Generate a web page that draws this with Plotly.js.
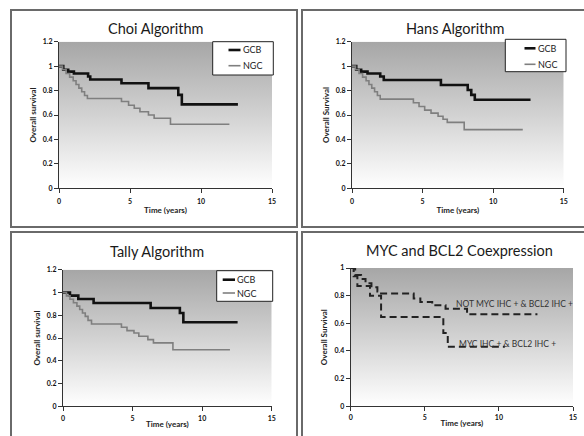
<!DOCTYPE html>
<html>
<head>
<meta charset="utf-8">
<script src="https://cdn.plot.ly/plotly-3.0.1.min.js"></script>
<style>html,body{margin:0;padding:0;background:#fff;}#chart{width:584px;height:436px;}</style>
</head>
<body>
<div id="chart"></div>
<script>
// ---- Data ----
const panelTitles = ["Choi Algorithm", "Hans Algorithm", "Tally Algorithm", "MYC and BCL2 Coexpression"];
const seriesNames = ["GCB", "NGC"];
const mycNames = ["NOT MYC IHC + & BCL2 IHC +", "MYC IHC + & BCL2 IHC +"];
const yTitles = ["Overall survival", "Overall Survival", "Overall survival", "Overall Survival"];
const xTitle = "Time (years)";

const choiGcbX = [0, 0.3, 0.65, 1.05, 2.05, 2.2, 4.4, 6.3, 8.4, 8.65, 12.6];
const choiGcbY = [1, 0.97, 0.955, 0.94, 0.915, 0.89, 0.86, 0.82, 0.765, 0.687, 0.687];
const choiNgcX = [0, 0.25, 0.5, 0.75, 1.0, 1.2, 1.4, 1.6, 1.8, 2.0, 4.4, 4.9, 5.3, 5.7, 6.3, 6.7, 7.85, 12.0];
const choiNgcY = [1, 0.97, 0.94, 0.91, 0.88, 0.85, 0.82, 0.79, 0.76, 0.735, 0.71, 0.68, 0.655, 0.627, 0.60, 0.573, 0.524, 0.524];

const hansGcbX = [0, 0.3, 0.65, 1.1, 2.0, 2.25, 6.3, 8.2, 8.45, 8.7, 12.65];
const hansGcbY = [1, 0.97, 0.955, 0.94, 0.915, 0.886, 0.846, 0.805, 0.765, 0.725, 0.725];
const hansNgcX = [0, 0.25, 0.5, 0.75, 1.0, 1.2, 1.4, 1.6, 1.8, 2.0, 4.35, 4.75, 5.15, 5.6, 6.1, 6.45, 6.75, 7.95, 12.1];
const hansNgcY = [1, 0.97, 0.94, 0.91, 0.88, 0.85, 0.82, 0.79, 0.76, 0.73, 0.70, 0.67, 0.64, 0.615, 0.59, 0.565, 0.54, 0.48, 0.48];

const tallyGcbX = [0, 0.5, 1.1, 2.2, 6.3, 8.4, 8.65, 12.55];
const tallyGcbY = [1, 0.972, 0.943, 0.908, 0.864, 0.82, 0.738, 0.738];
const tallyNgcX = [0, 0.25, 0.5, 0.75, 1.0, 1.2, 1.4, 1.6, 1.8, 2.05, 4.2, 4.6, 5.1, 5.45, 6.1, 6.5, 7.9, 12.0];
const tallyNgcY = [1, 0.97, 0.94, 0.91, 0.88, 0.85, 0.82, 0.79, 0.755, 0.723, 0.694, 0.665, 0.644, 0.615, 0.586, 0.557, 0.497, 0.497];

const notMycX = [0, 0.3, 0.7, 1.0, 1.4, 1.8, 2.05, 4.25, 4.7, 5.5, 6.4, 7.85, 12.6];
const notMycY = [1, 0.95, 0.92, 0.89, 0.86, 0.83, 0.815, 0.78, 0.755, 0.73, 0.705, 0.665, 0.665];
const mycPosX = [0, 0.2, 0.45, 1.3, 2.05, 6.25, 6.55, 10.4];
const mycPosY = [1, 0.94, 0.87, 0.80, 0.645, 0.53, 0.43, 0.43];

// ---- Layout helpers ----
const W = 584, H = 436;
const px = v => v / W;
const py = v => 1 - v / H;
// plot areas in pixels [left, right, top, bottom]
const areas = [
  [59, 272, 41.7, 188.3],
  [352, 563.7, 41.7, 188.3],
  [63, 271.7, 269.7, 406.3],
  [350.7, 573, 268, 406.3]
];
const FONT = "Lato, 'Open Sans', sans-serif";

const gcbLine = {color: "#111111", width: 2.6, shape: "hv"};
const ngcLine = {color: "#7f7f7f", width: 1.6, shape: "hv"};
const dashLine = {color: "#222", width: 2, dash: "7px,4px", shape: "hv"};

const traces = [
  {x: choiGcbX, y: choiGcbY, name: seriesNames[0], xaxis: "x", yaxis: "y", line: gcbLine, mode: "lines"},
  {x: choiNgcX, y: choiNgcY, name: seriesNames[1], xaxis: "x", yaxis: "y", line: ngcLine, mode: "lines"},
  {x: hansGcbX, y: hansGcbY, name: seriesNames[0], xaxis: "x2", yaxis: "y2", line: gcbLine, mode: "lines"},
  {x: hansNgcX, y: hansNgcY, name: seriesNames[1], xaxis: "x2", yaxis: "y2", line: ngcLine, mode: "lines"},
  {x: tallyGcbX, y: tallyGcbY, name: seriesNames[0], xaxis: "x3", yaxis: "y3", line: gcbLine, mode: "lines"},
  {x: tallyNgcX, y: tallyNgcY, name: seriesNames[1], xaxis: "x3", yaxis: "y3", line: ngcLine, mode: "lines"},
  {x: notMycX, y: notMycY, name: mycNames[0], xaxis: "x4", yaxis: "y4", line: dashLine, mode: "lines"},
  {x: mycPosX, y: mycPosY, name: mycNames[1], xaxis: "x4", yaxis: "y4", line: dashLine, mode: "lines"}
];

const gradSvg = '<svg xmlns="http://www.w3.org/2000/svg" width="10" height="100" preserveAspectRatio="none"><defs><linearGradient id="g" x1="0" y1="0" x2="0" y2="1"><stop offset="0" stop-color="#a6a6a6"/><stop offset="0.5" stop-color="#d2d2d2"/><stop offset="1" stop-color="#ffffff"/></linearGradient></defs><rect width="10" height="100" fill="url(#g)"/></svg>';
const gradUrl = "data:image/svg+xml;charset=utf-8," + encodeURIComponent(gradSvg);

const layout = {
  width: W, height: H,
  margin: {l: 0, r: 0, t: 0, b: 0},
  paper_bgcolor: "#ffffff",
  plot_bgcolor: "rgba(0,0,0,0)",
  font: {family: FONT, color: "#222"},
  showlegend: false,
  annotations: [],
  shapes: [],
  images: []
};

const yRanges = [[0, 1.2], [0, 1.2], [0, 1.2], [0, 1.0]];
const xTitleStandoff = [3, 3, 0, 0];
const xTickStandoff = [2, 2, 1, 0];
areas.forEach((a, i) => {
  const n = i === 0 ? "" : String(i + 1);
  layout["xaxis" + n] = {
    domain: [px(a[0]), px(a[1])], anchor: "y" + n,
    range: [0, 15], dtick: 5, tick0: 0,
    showgrid: false, zeroline: false, showline: true, linecolor: "#333", linewidth: 1,
    ticks: "outside", ticklen: 4, tickcolor: "#333", tickwidth: 1,
    ticklabelstandoff: xTickStandoff[i],
    tickfont: {family: FONT, size: 7, color: "#111", weight: "bold"},
    title: {text: xTitle, font: {family: FONT, size: 8, color: "#222", weight: "bold"}, standoff: xTitleStandoff[i]},
    fixedrange: true
  };
  layout["yaxis" + n] = {
    domain: [py(a[3]), py(a[2])], anchor: "x" + n,
    range: yRanges[i], dtick: 0.2, tick0: 0,
    showgrid: false, zeroline: false, showline: true, linecolor: "#333", linewidth: 1,
    ticks: "outside", ticklen: 4, tickcolor: "#333", tickwidth: 1,
    tickfont: {family: FONT, size: 7, color: "#111", weight: "bold"},
    title: {text: yTitles[i], font: {family: FONT, size: 8, color: "#222", weight: "bold"}, standoff: 5},
    fixedrange: true
  };
  layout.images.push({
    source: gradUrl, xref: "paper", yref: "paper",
    x: px(a[0]), y: py(a[2]), sizex: px(a[1]) - px(a[0]), sizey: py(a[2]) - py(a[3]),
    xanchor: "left", yanchor: "top", sizing: "stretch", layer: "below"
  });
});

// panel titles
const titlePos = [[156, 28], [455.3, 28], [157.3, 251.3], [459.3, 250.3]];
panelTitles.forEach((t, i) => {
  layout.annotations.push({
    text: t, xref: "paper", yref: "paper", x: px(titlePos[i][0]), y: py(titlePos[i][1]),
    xanchor: "center", yanchor: "middle", showarrow: false,
    font: {family: FONT, size: 14.5, color: "#1a1a1a"}
  });
});

// panel 4 curve labels
layout.annotations.push({text: mycNames[0], xref: "x4", yref: "y4", x: 6.95, y: 0.74, xanchor: "left", yanchor: "middle", showarrow: false, font: {family: FONT, size: 8.5, color: "#333"}});
layout.annotations.push({text: mycNames[1], xref: "x4", yref: "y4", x: 7.2, y: 0.447, xanchor: "left", yanchor: "middle", showarrow: false, font: {family: FONT, size: 8.5, color: "#333"}});

// legends (boxed keys, as in the reference): [boxL, boxR, boxT, boxB, lineX0, lineX1, row1Y, row2Y]
const legendBoxes = [
  [212.7, 273.3, 41.7, 75, 228.5, 240.5, 50, 65.7],
  [505.3, 566, 39.3, 71.7, 524.5, 535.5, 48.3, 64.3],
  [216.7, 272.7, 270.7, 301.3, 222.7, 235, 279.7, 293]
];
const legendLines = [gcbLine, ngcLine];
legendBoxes.forEach(b => {
  layout.shapes.push({type: "rect", xref: "paper", yref: "paper", x0: px(b[0]), x1: px(b[1]), y0: py(b[3]), y1: py(b[2]), line: {color: "#222", width: 1}, fillcolor: "#ffffff", layer: "above"});
  seriesNames.forEach((nm, j) => {
    const yy = b[6 + j];
    layout.shapes.push({type: "line", xref: "paper", yref: "paper", x0: px(b[4]), x1: px(b[5]), y0: py(yy), y1: py(yy), line: {color: legendLines[j].color, width: legendLines[j].width}, layer: "above"});
    layout.annotations.push({text: nm, xref: "paper", yref: "paper", x: px(b[5] + 0.5), y: py(yy), xanchor: "left", yanchor: "middle", showarrow: false, font: {family: FONT, size: 9, color: "#222"}});
  });
});

// panel frames
const frames = [[11, 297, 10, 227], [302, 590, 10, 227], [11, 297, 232, 445], [302, 590, 232, 445]];
frames.forEach(f => {
  layout.shapes.push({type: "rect", xref: "paper", yref: "paper", x0: px(f[0]), x1: px(f[1]), y0: py(f[3]), y1: py(f[2]), line: {color: "#6a6a6a", width: 2}, layer: "above"});
});

Plotly.newPlot("chart", traces, layout, {displayModeBar: false, staticPlot: true});
</script>
</body>
</html>
